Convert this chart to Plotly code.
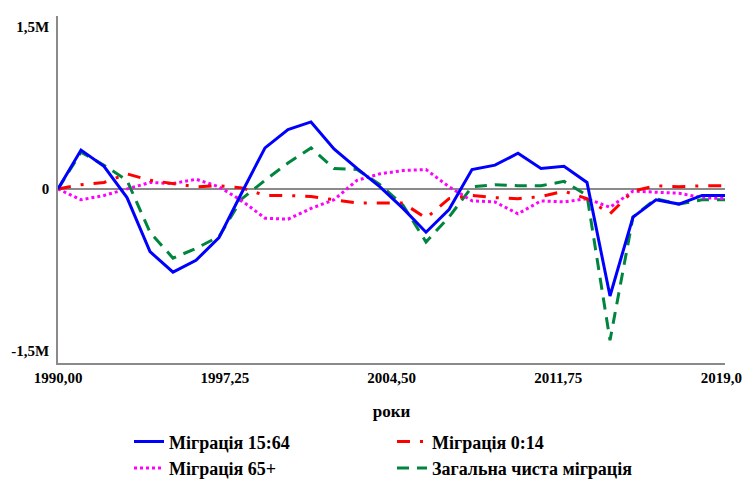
import plotly.graph_objects as go

years = list(range(1990, 2020))

mig_15_64 = [0, 360000, 210000, -80000, -580000, -770000, -660000, -450000, -30000, 380000,
             550000, 620000, 370000, 190000, 20000, -180000, -400000, -190000, 180000, 220000,
             330000, 190000, 210000, 60000, -990000, -260000, -100000, -140000, -60000, -60000]
mig_0_14 = [0, 40000, 60000, 140000, 80000, 50000, 20000, 30000, 10000, -60000,
            -60000, -70000, -100000, -130000, -130000, -130000, -270000, -90000, -60000, -80000,
            -90000, -70000, -20000, -90000, -230000, -20000, 30000, 20000, 30000, 30000]
mig_65 = [0, -100000, -60000, 0, 60000, 50000, 90000, 20000, -110000, -270000,
          -280000, -180000, -100000, 80000, 140000, 170000, 180000, 20000, -110000, -120000,
          -230000, -110000, -120000, -90000, -170000, -20000, -30000, -40000, -80000, -90000]
mig_total = [0, 340000, 220000, 80000, -400000, -640000, -550000, -440000, -90000, 80000,
             240000, 380000, 190000, 180000, 40000, -150000, -490000, -260000, 20000, 40000,
             30000, 30000, 70000, -60000, -1400000, -260000, -90000, -140000, -100000, -100000]

x_tickvals = [1990, 1997.25, 2004.5, 2011.75, 2019]
x_ticktext = ["1990,00", "1997,25", "2004,50", "2011,75", "2019,00"]
y_tickvals = [-1500000, 0, 1500000]
y_ticktext = ["-1,5M", "0", "1,5M"]

names = ["Міграція 15:64", "Міграція 0:14", "Міграція 65+", "Загальна чиста міграція"]

FONT = "Liberation Serif"

fig = go.Figure()
fig.add_trace(go.Scatter(x=years, y=mig_total, name=names[3], mode="lines",
                         line=dict(color="#00853f", width=3, dash="12px,8px"), legendrank=4))
fig.add_trace(go.Scatter(x=years, y=mig_65, name=names[2], mode="lines",
                         line=dict(color="#ff00ff", width=3, dash="3px,3px"), legendrank=3))
fig.add_trace(go.Scatter(x=years, y=mig_0_14, name=names[1], mode="lines",
                         line=dict(color="#ff0000", width=3, dash="13px,10px,3px,10px"), legendrank=2))
fig.add_trace(go.Scatter(x=years, y=mig_15_64, name=names[0], mode="lines",
                         line=dict(color="#0000ff", width=3), legendrank=1))

fig.update_layout(
    width=742, height=481,
    margin=dict(l=58, r=17, t=16, b=118),
    paper_bgcolor="white", plot_bgcolor="white",
    font=dict(family=FONT, size=15, color="black", weight="bold"),
    showlegend=True,
    legend=dict(orientation="h", xref="container", yref="container",
                x=129 / 742, xanchor="left", y=0.12, yanchor="top",
                entrywidth=218, entrywidthmode="pixels",
                font=dict(family=FONT, size=18, color="black", weight="bold"),
                traceorder="normal", itemwidth=30, bgcolor="rgba(0,0,0,0)"),
)
fig.update_xaxes(range=[1990, 2019], tickvals=x_tickvals, ticktext=x_ticktext,
                 showgrid=False, zeroline=False, showline=True, linecolor="#8a8a8a", linewidth=1.5,
                 ticks="", tickfont=dict(family=FONT, size=15, weight="bold"), automargin=False,
                 ticklabeloverflow="allow",
                 title=dict(text="роки", font=dict(family=FONT, size=17, weight="bold"), standoff=20))
fig.update_yaxes(range=[-1610000, 1600000], tickvals=y_tickvals, ticktext=y_ticktext,
                 showgrid=False, zeroline=True, zerolinecolor="#8a8a8a", zerolinewidth=2,
                 showline=True, linecolor="#8a8a8a", linewidth=1.5, automargin=False,
                 ticks="", ticklabelstandoff=4, tickfont=dict(family=FONT, size=15, weight="bold"))

fig.write_html("out.html", config={"displayModeBar": False},
               post_script="document.body.style.margin='0';")
